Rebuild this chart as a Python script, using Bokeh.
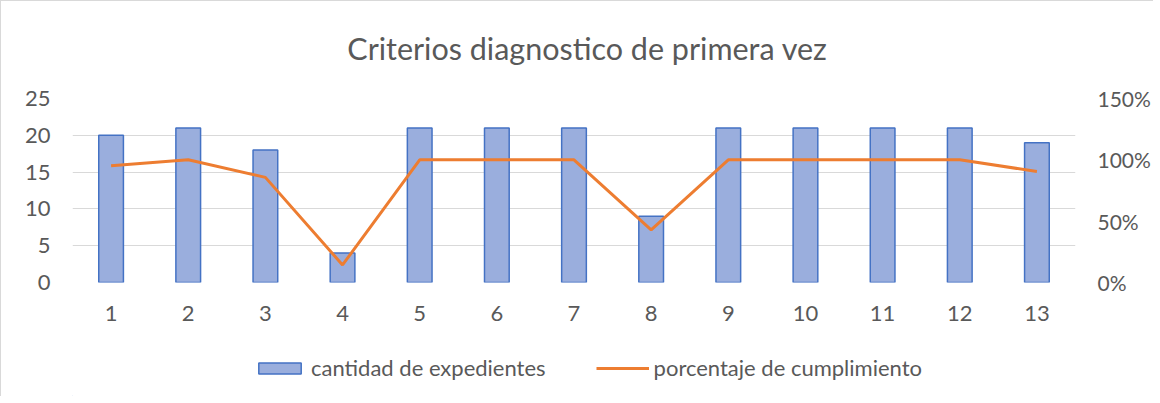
from bokeh.plotting import figure
from bokeh.layouts import column
from bokeh.models import (ColumnDataSource, FactorRange, Range1d, LinearAxis, FixedTicker,
                          NumeralTickFormatter, Legend, LegendItem, Label)
from bokeh.embed import file_html
from bokeh.resources import INLINE

categories = ["1", "2", "3", "4", "5", "6", "7", "8", "9", "10", "11", "12", "13"]
cantidad = [20, 21, 18, 4, 21, 21, 21, 9, 21, 21, 21, 21, 19]
porcentaje = [0.952, 1.0, 0.857, 0.143, 1.0, 1.0, 1.0, 0.429, 1.0, 1.0, 1.0, 1.0, 0.905]
left_ticks = [0, 5, 10, 15, 20, 25]
right_ticks = [0, 0.5, 1.0, 1.5]
title_text = "Criterios diagnostico de primera vez"
bar_label = "cantidad de expedientes"
line_label = "porcentaje de cumplimiento"

FONT = "Lato"
GRAY = "#595959"
BAR_FILL = "#9aaedd"
BAR_LINE = "#4472c4"
LINE_COLOR = "#ed7d31"

# ---- title strip ----
tf = figure(width=1152, height=76, output_backend="svg", toolbar_location=None,
            x_range=Range1d(72, 1077), y_range=Range1d(0, 76), x_axis_location=None,
            y_axis_location=None, min_border=0)
tf.outline_line_color = None
tf.grid.grid_line_color = None
tf.add_layout(Label(x=588, y=30, text=title_text, text_align="center", text_baseline="middle",
                    text_font=FONT, text_font_size="30.5px", text_color=GRAY))

# ---- main chart ----
src = ColumnDataSource(dict(cat=categories, cnt=cantidad, pct=porcentaje))

p = figure(x_range=FactorRange(*categories, range_padding=0), y_range=Range1d(0, 25),
           width=1152, height=254, output_backend="svg", toolbar_location=None,
           min_border_left=71, min_border_right=75, min_border_top=21, min_border_bottom=49)
p.outline_line_color = None
p.extra_y_ranges = {"pct": Range1d(0, 1.5)}

p.vbar(x="cat", top="cnt", width=0.32, source=src, fill_color=BAR_FILL,
       line_color=BAR_LINE, line_width=1.5)
p.line(x="cat", y="pct", source=src, y_range_name="pct", line_color=LINE_COLOR, line_width=3)

p.xgrid.grid_line_color = None
p.ygrid.grid_line_color = "#d9d9d9"
p.ygrid.grid_line_width = 1.2
p.yaxis.ticker = FixedTicker(ticks=left_ticks)

right = LinearAxis(y_range_name="pct", ticker=FixedTicker(ticks=right_ticks),
                   formatter=NumeralTickFormatter(format="0%"))
p.add_layout(right, "right")

for ax in [p.xaxis[0], p.yaxis[0], right]:
    ax.axis_line_color = None
    ax.major_tick_line_color = None
    ax.minor_tick_line_color = None
    ax.major_tick_out = 0
    ax.major_tick_in = 0
    ax.minor_tick_out = 0
    ax.minor_tick_in = 0
    ax.major_label_text_font = FONT
    ax.major_label_text_font_size = "22px"
    ax.major_label_text_color = GRAY
right.major_label_text_font_size = "21px"
p.xaxis.major_label_standoff = 23
p.yaxis[0].major_label_standoff = 22
right.major_label_standoff = 22

# ---- legend strip (proxy glyphs lie outside the strip's ranges) ----
lg = figure(width=1152, height=65, output_backend="svg", toolbar_location=None,
            x_range=Range1d(0, 1), y_range=Range1d(0, 1), x_axis_location=None,
            y_axis_location=None, min_border=0)
lg.outline_line_color = None
lg.grid.grid_line_color = None
r_bar = lg.vbar(x=[-5], top=[-5], width=0.1, fill_color=BAR_FILL, line_color=BAR_LINE,
                line_width=1.5)
r_line = lg.line(x=[-5, -4], y=[-5, -5], line_color=LINE_COLOR, line_width=3)
legend = Legend(items=[LegendItem(label=bar_label, renderers=[r_bar]),
                       LegendItem(label=line_label, renderers=[r_line])],
                orientation="horizontal", location=(181, 15),
                label_text_font=FONT, label_text_font_size="22px", label_text_color=GRAY,
                glyph_width=53, glyph_height=14, spacing=50, label_standoff=5,
                border_line_color=None, background_fill_alpha=0, padding=0, margin=0)
lg.add_layout(legend, "center")

layout = column(tf, p, lg, spacing=0,
                styles={"border-left": "1px solid #d9d9d9", "border-top": "1px solid #d9d9d9"})

open("out.html", "w").write(file_html(layout, INLINE))
